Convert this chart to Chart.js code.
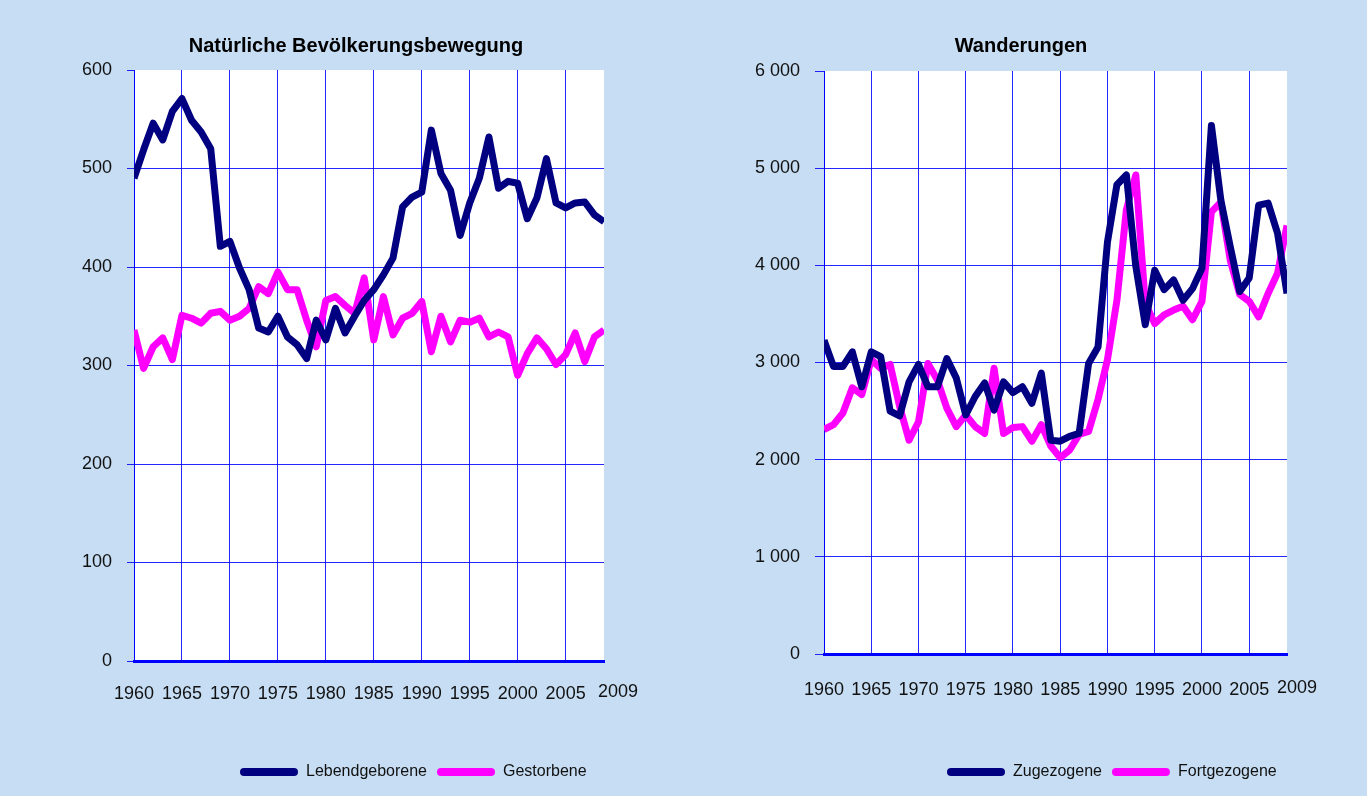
<!DOCTYPE html>
<html lang="de">
<head>
  <meta charset="UTF-8" />
  <title>Bevölkerungsbewegung und Wanderungen</title>
  <script src="https://cdn.jsdelivr.net/npm/chart.js"></script>
</head>
<body style="margin: 0; background: #c6ddf3; width: 1367px; height: 796px; overflow: hidden; position: relative;">

  <canvas id="natChart" width="683" height="796" style="position: absolute; left: 0; top: 0;"></canvas>
  <canvas id="wanChart" width="684" height="796" style="position: absolute; left: 683px; top: 0;"></canvas>

  <script>
    const years = [
      1960, 1961, 1962, 1963, 1964, 1965, 1966, 1967, 1968, 1969,
      1970, 1971, 1972, 1973, 1974, 1975, 1976, 1977, 1978, 1979,
      1980, 1981, 1982, 1983, 1984, 1985, 1986, 1987, 1988, 1989,
      1990, 1991, 1992, 1993, 1994, 1995, 1996, 1997, 1998, 1999,
      2000, 2001, 2002, 2003, 2004, 2005, 2006, 2007, 2008, 2009
    ];

    // Natürliche Bevölkerungsbewegung
    const lebendgeborene = [
      490, 519, 546, 529, 558, 571, 549, 537, 520, 421,
      426, 399, 377, 338, 334, 350, 329, 321, 307, 346,
      326, 358, 333, 350, 366, 377, 392, 409, 461, 471,
      476, 539, 495, 478, 432, 465, 490, 532, 480, 487,
      485, 449, 470, 510, 465, 460, 465, 466, 453, 446
    ];
    const gestorbene = [
      336, 297, 319, 328, 306, 351, 348, 343, 353, 355,
      346, 350, 358, 380, 373, 395, 377, 377, 346, 319,
      366, 370, 361, 353, 389, 326, 370, 331, 348, 353,
      365, 314, 350, 324, 346, 344, 348, 329, 334, 329,
      290, 312, 328, 317, 301, 311, 333, 304, 329, 336
    ];

    // Wanderungen
    const zugezogene = [
      3230, 2960, 2960, 3110, 2750, 3110, 3060, 2500, 2450, 2800,
      2980, 2750, 2750, 3040, 2840, 2460, 2650, 2790, 2510, 2800,
      2690, 2750, 2580, 2890, 2200, 2190, 2240, 2270, 2990, 3160,
      4240, 4830, 4930, 3990, 3390, 3950, 3750, 3850, 3640, 3760,
      3970, 5440, 4670, 4190, 3730, 3870, 4620, 4640, 4330, 3710
    ];
    const fortgezogene = [
      2310, 2360, 2480, 2740, 2670, 3030, 2940, 2980, 2550, 2200,
      2390, 2990, 2820, 2530, 2340, 2460, 2340, 2270, 2940, 2270,
      2330, 2340, 2190, 2360, 2140, 2020, 2100, 2260, 2290, 2620,
      3030, 3640, 4570, 4930, 3610, 3400, 3490, 3540, 3580, 3440,
      3630, 4550, 4650, 4050, 3700, 3630, 3470, 3710, 3920, 4410
    ];

    const xTicks = [1960, 1965, 1970, 1975, 1980, 1985, 1990, 1995, 2000, 2005];
    const natTicks = [0, 100, 200, 300, 400, 500, 600];
    const wanTicks = [0, 1000, 2000, 3000, 4000, 5000, 6000];

    const NAVY = '#000080';
    const MAGENTA = '#ff00ff';
    const GRID = 'rgba(0, 0, 255, 0.85)';
    const AXIS = '#0000ff';
    const FONT = "'Liberation Sans', Arial, sans-serif";

    Chart.defaults.font.family = FONT;

    // white plot area, shifted title/legend, and the last year label off the edge
    const extras = {
      id: 'extras',
      afterLayout(chart, args, opts) {
        chart.titleBlock.left += opts.titleShift;
        chart.titleBlock.right += opts.titleShift;
        chart.legend.left += opts.legendShift;
        chart.legend.right += opts.legendShift;
      },
      beforeDraw(chart) {
        const a = chart.chartArea;
        const ctx = chart.ctx;
        ctx.save();
        ctx.fillStyle = '#ffffff';
        ctx.fillRect(a.left, a.top, a.right - a.left, a.bottom - a.top);
        ctx.restore();
      },
      afterDraw(chart, args, opts) {
        const x = chart.scales.x;
        const last = years[years.length - 1];
        const ctx = chart.ctx;
        ctx.save();
        ctx.font = '18px ' + FONT;
        ctx.fillStyle = '#111111';
        ctx.textAlign = 'center';
        ctx.textBaseline = 'middle';
        ctx.fillText(String(last), x.getPixelForValue(last) + opts.lastShift, x.top + opts.xPad + 9);
        ctx.restore();
      }
    };

    const spaced = v => String(v).replace(/\B(?=(\d{3})+(?!\d))/g, ' ');

    function buildChart(id, o) {
      return new Chart(document.getElementById(id), {
        type: 'line',
        data: {
          labels: years,
          datasets: o.series.map(s => ({
            label: s.label,
            data: s.data,
            borderColor: s.color,
            backgroundColor: s.color,
            borderWidth: 7,
            pointRadius: 0,
            tension: 0,
            borderJoinStyle: 'round'
          }))
        },
        options: {
          responsive: false,
          animation: false,
          layout: { padding: { left: 0, right: o.padRight, top: 0, bottom: 6 } },
          scales: {
            x: {
              type: 'linear',
              min: years[0],
              max: years[years.length - 1],
              afterBuildTicks: axis => { axis.ticks = xTicks.map(v => ({ value: v })); },
              afterFit: axis => { axis.height = o.xHeight; },
              grid: {
                color: ctx => (ctx.tick && ctx.tick.value === xTicks[0]) ? 'rgba(0,0,0,0)' : GRID,
                lineWidth: 1,
                drawTicks: false
              },
              border: { color: AXIS, width: 3 },
              ticks: {
                color: '#111111',
                font: { size: 18 },
                padding: o.xPad,
                maxRotation: 0,
                autoSkip: false,
                callback: v => String(v)
              }
            },
            y: {
              min: o.yTicks[0],
              max: o.yTicks[o.yTicks.length - 1],
              afterBuildTicks: axis => { axis.ticks = o.yTicks.map(v => ({ value: v })); },
              afterFit: axis => { axis.width = o.yWidth; },
              grid: {
                color: ctx => (ctx.tick && ctx.tick.value === o.yTicks[o.yTicks.length - 1]) ? 'rgba(0,0,0,0)' : GRID,
                tickColor: GRID,
                tickLength: o.tickLen,
                lineWidth: 1
              },
              border: { color: AXIS, width: 1 },
              ticks: {
                color: '#111111',
                font: { size: 18 },
                padding: 15,
                callback: o.yFormat
              }
            }
          },
          plugins: {
            title: {
              display: true,
              text: o.title,
              color: '#000000',
              font: { size: 20, weight: 'bold' },
              padding: { top: 34, bottom: o.titleBottom }
            },
            legend: {
              position: 'bottom',
              align: 'start',
              labels: {
                color: '#111111',
                font: { size: 16 },
                boxWidth: 58,
                boxHeight: 8,
                padding: 10,
                useBorderRadius: true,
                borderRadius: 4,
                generateLabels: chart => Chart.defaults.plugins.legend.labels.generateLabels(chart)
                  .map(item => Object.assign(item, { lineWidth: 0 }))
              }
            },
            tooltip: { enabled: false },
            extras: { titleShift: o.titleShift, legendShift: o.legendShift, lastShift: o.lastShift, xPad: o.xPad }
          }
        },
        plugins: [extras]
      });
    }

    buildChart('natChart', {
      title: 'Natürliche Bevölkerungsbewegung',
      series: [
        { label: 'Lebendgeborene', data: lebendgeborene, color: NAVY },
        { label: 'Gestorbene', data: gestorbene, color: MAGENTA }
      ],
      yTicks: natTicks,
      yFormat: v => String(v),
      yWidth: 134,
      tickLen: 7,
      padRight: 79,
      xHeight: 93,
      xPad: 22,
      titleBottom: 12,
      titleShift: 54,
      legendShift: 230,
      lastShift: 14
    });

    buildChart('wanChart', {
      title: 'Wanderungen',
      series: [
        { label: 'Zugezogene', data: zugezogene, color: NAVY },
        { label: 'Fortgezogene', data: fortgezogene, color: MAGENTA }
      ],
      yTicks: wanTicks,
      yFormat: spaced,
      yWidth: 141,
      tickLen: 9,
      padRight: 80,
      xHeight: 100,
      xPad: 25,
      titleBottom: 13,
      titleShift: 36,
      legendShift: 254,
      lastShift: 10
    });
  </script>
</body>
</html>
